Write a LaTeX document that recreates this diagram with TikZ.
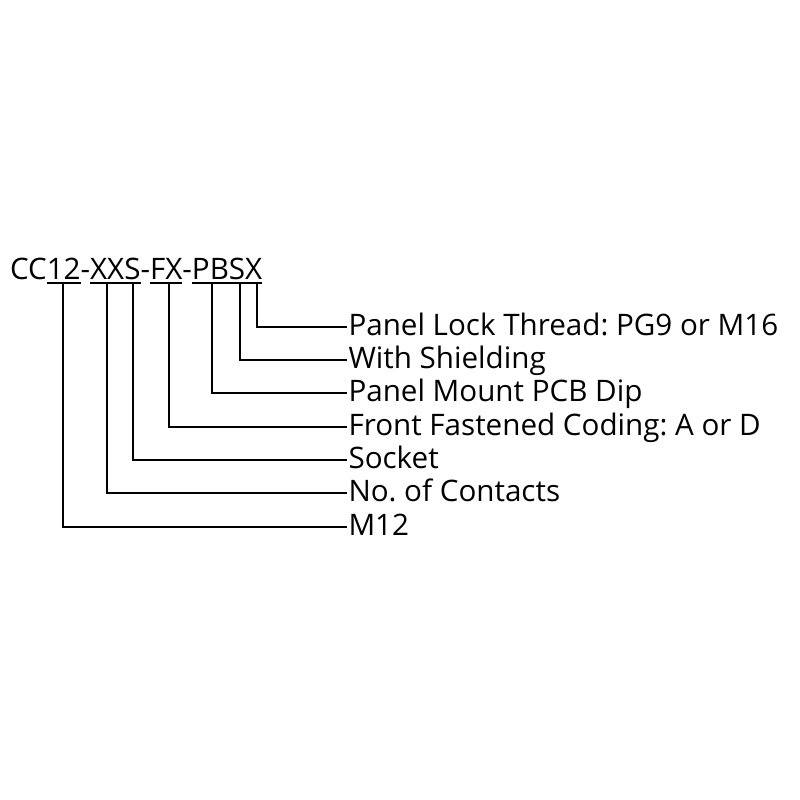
\documentclass[tikz,border=0pt]{standalone}
\usepackage{fontspec}
\setmainfont{Open Sans}
\frenchspacing
\begin{document}
\begin{tikzpicture}[x=1pt,y=-1pt,
  code/.style={inner sep=0pt,outer sep=0pt,anchor=base west,font=\fontsize{29.6}{32}\selectfont},
  lbl/.style={inner xsep=1.5pt,inner ysep=0pt,outer sep=0pt,anchor=base west,text height=17pt,text depth=0pt,font=\fontsize{29.6}{32}\selectfont},
  ln/.style={line width=2pt,line join=miter},
]
\useasboundingbox (0,0) rectangle (800,800);
% code text
\node[code] (cc) at (10,279) {CC};
\node[code] (d12) at (cc.base east) {12};
\node[code] (h1) at (d12.base east) {-};
\node[code] (xx) at (h1.base east) {XX};
\node[code] (s) at (xx.base east) {S};
\node[code] (h2) at (s.base east) {-};
\node[code] (fx) at (h2.base east) {FX};
\node[code] (h3) at (fx.base east) {-};
\node[code] (p) at (h3.base east) {P};
\node[code] (b) at (p.base east) {B};
\node[code] (s2) at (b.base east) {S};
\node[code] (x2) at (s2.base east) {X};
% underlines
\draw[ln] ([yshift=-4pt]d12.base west) -- ([yshift=-4pt]d12.base east);
\draw[ln] ([yshift=-4pt]xx.base west) -- ([yshift=-4pt]s.base east);
\draw[ln] ([yshift=-4pt]fx.base west) -- ([yshift=-4pt]fx.base east);
\draw[ln] ([yshift=-4pt]p.base west) -- ([yshift=-4pt]x2.base east);
% junction points on underlines
\coordinate (j1) at (63,283);
\coordinate (j2) at (107,283);
\coordinate (j3) at (133,283);
\coordinate (j4) at (169,283);
\coordinate (j5) at (212,283);
\coordinate (j6) at (240,283);
\coordinate (j7) at (257,283);
% labels
\node[lbl] (l7) at (347,335.5) {Panel Lock Thread: PG9 or M16};
\node[lbl] (l6) at (347,368.5) {With Shielding};
\node[lbl] (l5) at (347,401.5) {Panel Mount PCB Dip};
\node[lbl] (l4) at (347,435.5) {Front Fastened Coding: A or D};
\node[lbl] (l3) at (347,468.5) {Socket};
\node[lbl] (l2) at (347,501.5) {No. of Contacts};
\node[lbl] (l1) at (347,535.5) {M12};
% connectors
\draw[ln] (j7) |- (l7.west);
\draw[ln] (j6) |- (l6.west);
\draw[ln] (j5) |- (l5.west);
\draw[ln] (j4) |- (l4.west);
\draw[ln] (j3) |- (l3.west);
\draw[ln] (j2) |- (l2.west);
\draw[ln] (j1) |- (l1.west);
\end{tikzpicture}
\end{document}
